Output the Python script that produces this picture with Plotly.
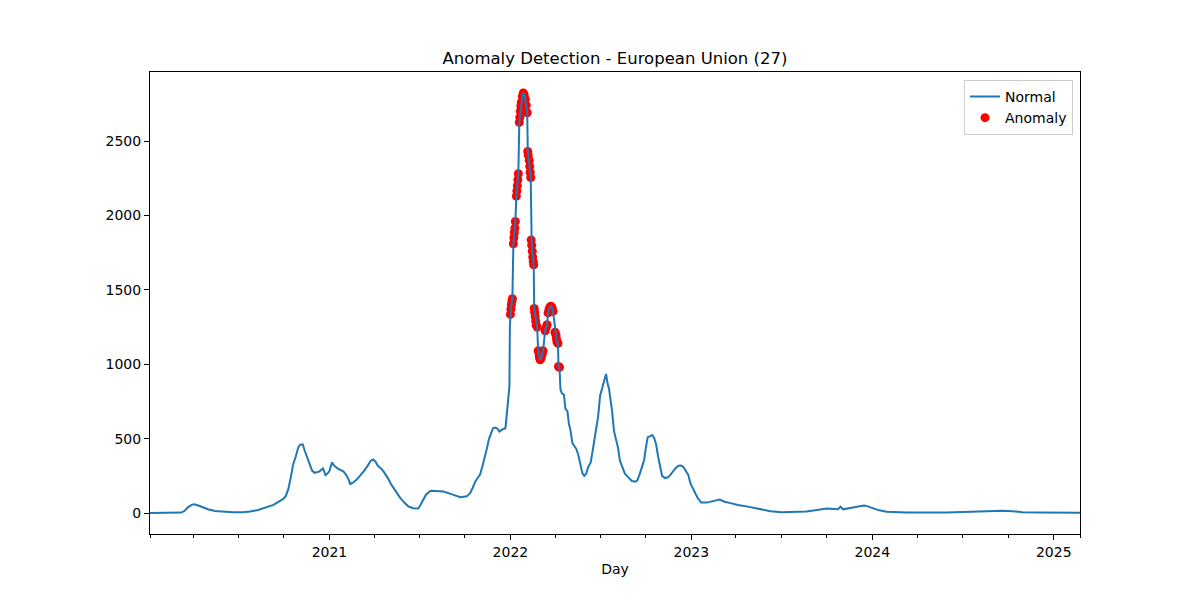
import plotly.graph_objects as go
import pandas as pd

# ---------------- data ----------------
normal_dates = [
    "2020-01-05", "2020-02-01", "2020-02-25", "2020-03-08", "2020-03-15", "2020-03-22",
    "2020-03-29", "2020-04-03", "2020-04-10", "2020-04-20", "2020-05-01", "2020-05-15",
    "2020-06-01", "2020-06-20", "2020-07-10", "2020-07-25", "2020-08-10", "2020-08-25",
    "2020-09-10", "2020-09-20", "2020-09-30", "2020-10-05", "2020-10-10", "2020-10-15",
    "2020-10-20", "2020-10-25", "2020-10-30", "2020-11-03", "2020-11-08", "2020-11-12",
    "2020-11-17", "2020-11-22", "2020-11-27", "2020-12-02", "2020-12-07", "2020-12-12",
    "2020-12-19", "2020-12-24", "2020-12-28", "2021-01-01", "2021-01-06", "2021-01-10",
    "2021-01-17", "2021-01-24", "2021-01-29", "2021-02-03", "2021-02-08", "2021-02-12",
    "2021-02-18", "2021-02-25", "2021-03-04", "2021-03-11", "2021-03-18", "2021-03-25",
    "2021-03-30", "2021-04-04", "2021-04-09", "2021-04-15", "2021-04-20", "2021-04-25",
    "2021-04-30", "2021-05-05", "2021-05-10", "2021-05-17", "2021-05-24", "2021-06-01",
    "2021-06-09", "2021-06-19", "2021-06-29", "2021-07-03", "2021-07-07", "2021-07-11",
    "2021-07-15", "2021-07-24", "2021-08-01", "2021-08-19", "2021-09-01", "2021-09-08",
    "2021-09-22", "2021-10-05", "2021-10-12", "2021-10-17", "2021-10-22", "2021-10-27",
    "2021-11-01", "2021-11-06", "2021-11-11", "2021-11-15", "2021-11-19", "2021-11-23",
    "2021-11-27", "2021-12-01", "2021-12-05", "2021-12-10", "2021-12-15", "2021-12-22",
    "2021-12-25", "2021-12-28", "2021-12-30", "2021-12-31",
    "2022-04-12", "2022-04-15", "2022-04-19", "2022-04-22", "2022-04-26", "2022-04-29",
    "2022-05-02", "2022-05-06", "2022-05-10", "2022-05-14", "2022-05-18", "2022-05-22",
    "2022-05-26", "2022-05-30", "2022-06-03", "2022-06-07", "2022-06-12", "2022-06-16",
    "2022-06-20", "2022-06-24", "2022-06-27", "2022-07-01", "2022-07-05", "2022-07-09",
    "2022-07-13", "2022-07-16", "2022-07-19", "2022-07-22", "2022-07-25", "2022-07-29",
    "2022-08-02", "2022-08-06", "2022-08-10", "2022-08-15", "2022-08-20", "2022-08-27",
    "2022-09-03", "2022-09-10", "2022-09-14", "2022-09-19", "2022-09-24", "2022-09-28",
    "2022-10-01", "2022-10-05", "2022-10-09", "2022-10-14", "2022-10-18", "2022-10-22",
    "2022-10-26", "2022-10-30", "2022-11-03", "2022-11-09", "2022-11-15", "2022-11-20",
    "2022-11-25", "2022-12-01", "2022-12-06", "2022-12-11", "2022-12-16", "2022-12-21",
    "2022-12-26", "2022-12-30", "2023-01-03", "2023-01-08", "2023-01-14", "2023-01-21",
    "2023-02-01", "2023-02-10", "2023-02-20", "2023-02-27", "2023-03-09", "2023-03-19",
    "2023-04-05", "2023-04-25", "2023-05-19", "2023-06-10", "2023-07-02", "2023-08-01",
    "2023-08-21", "2023-09-15", "2023-10-01", "2023-10-24", "2023-10-29", "2023-11-03",
    "2023-11-24", "2023-12-15", "2023-12-20", "2024-01-02", "2024-01-15", "2024-01-30",
    "2024-03-10", "2024-05-30", "2024-07-01", "2024-08-04", "2024-09-20", "2024-10-10",
    "2024-10-30", "2024-12-01", "2025-01-01", "2025-02-23",
]
normal_values = [
    0, 0, 0.5, 3, 15, 40,
    55, 58, 52, 40, 25, 14,
    8, 6, 6, 10, 20, 35,
    55, 75, 95, 115, 160, 240,
    330, 380, 440, 460, 462, 420,
    375, 320, 285, 270, 275, 280,
    300, 255, 265, 282, 340, 320,
    300, 290, 280, 260, 230, 195,
    205, 225, 250, 280, 312, 350,
    360, 345, 315, 300, 280, 255,
    228, 195, 168, 130, 100, 70,
    45, 32, 30, 50, 76, 100,
    125, 150, 150, 145, 130, 121,
    106, 112, 135, 170, 211, 235,
    260, 320, 378, 440, 500, 540,
    570, 575, 570, 547, 560, 570,
    690, 780, 849, 1265,
    830, 804, 795, 700, 685, 600,
    560, 470, 450, 430, 390, 330,
    270, 250, 265, 310, 340, 420,
    500, 590, 650, 790, 840, 900,
    935, 870, 835, 760, 690, 550,
    490, 440, 350, 300, 265, 240,
    215, 210, 220, 263, 310, 360,
    435, 510, 515, 524, 505, 460,
    378, 300, 250, 235, 240, 258,
    280, 305, 318, 320, 310, 285,
    255, 200, 170, 140, 100, 70,
    70, 75, 85, 90, 76, 68,
    54, 43, 25, 12, 5, 7,
    11, 22, 30, 25, 43, 25,
    38, 50, 48, 34, 18, 9,
    3, 3, 6, 11, 15, 12,
    6, 4, 3, 2,
]

anomaly_dates = [
    "2022-01-01", "2022-01-02", "2022-01-03", "2022-01-04", "2022-01-05",
    "2022-01-07", "2022-01-08", "2022-01-09", "2022-01-10", "2022-01-11",
    "2022-01-13", "2022-01-14", "2022-01-15", "2022-01-16", "2022-01-17",
    "2022-01-19", "2022-01-20", "2022-01-21", "2022-01-22", "2022-01-23",
    "2022-01-25", "2022-01-27", "2022-01-29", "2022-01-31", "2022-02-02", "2022-02-04",
    "2022-02-05", "2022-02-06", "2022-02-08", "2022-02-09", "2022-02-10", "2022-02-11",
    "2022-02-12", "2022-02-13", "2022-02-14", "2022-02-15", "2022-02-16", "2022-02-17",
    "2022-02-18", "2022-02-19", "2022-02-20", "2022-02-21", "2022-02-22", "2022-02-24",
    "2022-02-26", "2022-02-28", "2022-03-01", "2022-03-02", "2022-03-04", "2022-03-06",
    "2022-03-08", "2022-03-12", "2022-03-14", "2022-03-16", "2022-03-18", "2022-03-20",
    "2022-03-22", "2022-03-24", "2022-03-26", "2022-03-28", "2022-04-01", "2022-04-03",
    "2022-04-04", "2022-04-05", "2022-04-07", "2022-04-08", "2022-04-10",
]
anomaly_values = [
    1335, 1370, 1400, 1425, 1440,
    1810, 1850, 1885, 1915, 1960,
    2130, 2165, 2200, 2240, 2280,
    2625, 2660, 2700, 2735, 2760,
    2800, 2823, 2810, 2780, 2740, 2690,
    2430, 2405, 2370, 2330, 2290, 2255,
    1835, 1800, 1760, 1720, 1690, 1668,
    1375, 1350, 1320, 1290, 1262, 1250,
    1090, 1060, 1042, 1030, 1040, 1065,
    1090, 1225, 1245, 1265, 1345, 1370,
    1385, 1390, 1380, 1355, 1215, 1195,
    1170, 1150, 1140, 985, 980,
]

year_ticks = ["2021-01-01", "2022-01-01", "2023-01-01", "2024-01-01", "2025-01-01"]
year_labels = ["2021", "2022", "2023", "2024", "2025"]
y_ticks = [0, 500, 1000, 1500, 2000, 2500]

x_start, x_end = "2020-01-05", "2025-02-23"

# ---------------- build ----------------
series = pd.concat([
    pd.DataFrame({"date": pd.to_datetime(normal_dates), "value": normal_values}),
    pd.DataFrame({"date": pd.to_datetime(anomaly_dates), "value": anomaly_values}),
]).sort_values("date")

minor_ticks = [x_start] + [d.strftime("%Y-%m-%d") for d in pd.date_range("2020-04-01", "2025-01-01", freq="QS")
                           if d.month != 1] + [x_end]

fig = go.Figure()
fig.add_trace(go.Scatter(
    x=anomaly_dates, y=anomaly_values, mode="markers", name="Anomaly",
    marker=dict(color="red", size=9, line=dict(width=0)), legendrank=2,
))
fig.add_trace(go.Scatter(
    x=series["date"], y=series["value"], mode="lines", name="Normal",
    line=dict(color="#1f77b4", width=2), legendrank=1,
))

# the page body adds an 8px offset; margins compensate so the axes land at 150..1080 x 72..534
font_family = "DejaVu Sans"
fig.update_layout(
    width=1200, height=600,
    margin=dict(l=142, r=128, t=64, b=74),
    paper_bgcolor="white", plot_bgcolor="white",
    font=dict(family=font_family, size=14, color="black"),
    title=dict(text="Anomaly Detection - European Union (27)", x=0.5, xref="paper",
               xanchor="center", y=1 - 50 / 600, yref="container", yanchor="middle",
               font=dict(size=16.5, color="black")),
    showlegend=True,
    legend=dict(x=0.9925, y=0.983, xanchor="right", yanchor="top",
                bgcolor="rgba(255,255,255,0.8)", bordercolor="#cccccc", borderwidth=1,
                font=dict(size=14), itemwidth=30, tracegroupgap=0),
)
fig.update_xaxes(
    type="date", range=[x_start, x_end],
    showline=True, linecolor="black", linewidth=1, mirror=True,
    ticks="outside", ticklen=5, tickwidth=1, tickcolor="black",
    tickmode="array", tickvals=year_ticks, ticktext=year_labels,
    showgrid=False, zeroline=False,
    minor=dict(tickmode="array", tickvals=minor_ticks, ticks="outside", ticklen=3,
               tickwidth=1, tickcolor="black", showgrid=False),
    title=dict(text="Day", font=dict(size=14), standoff=5),
)
fig.update_yaxes(
    range=[-141, 2964],
    showline=True, linecolor="black", linewidth=1, mirror=True,
    ticks="outside", ticklen=5, tickwidth=1, tickcolor="black",
    tickmode="array", tickvals=y_ticks, ticktext=[str(v) for v in y_ticks],
    showgrid=False, zeroline=False,
)

fig.write_html("out.html")
